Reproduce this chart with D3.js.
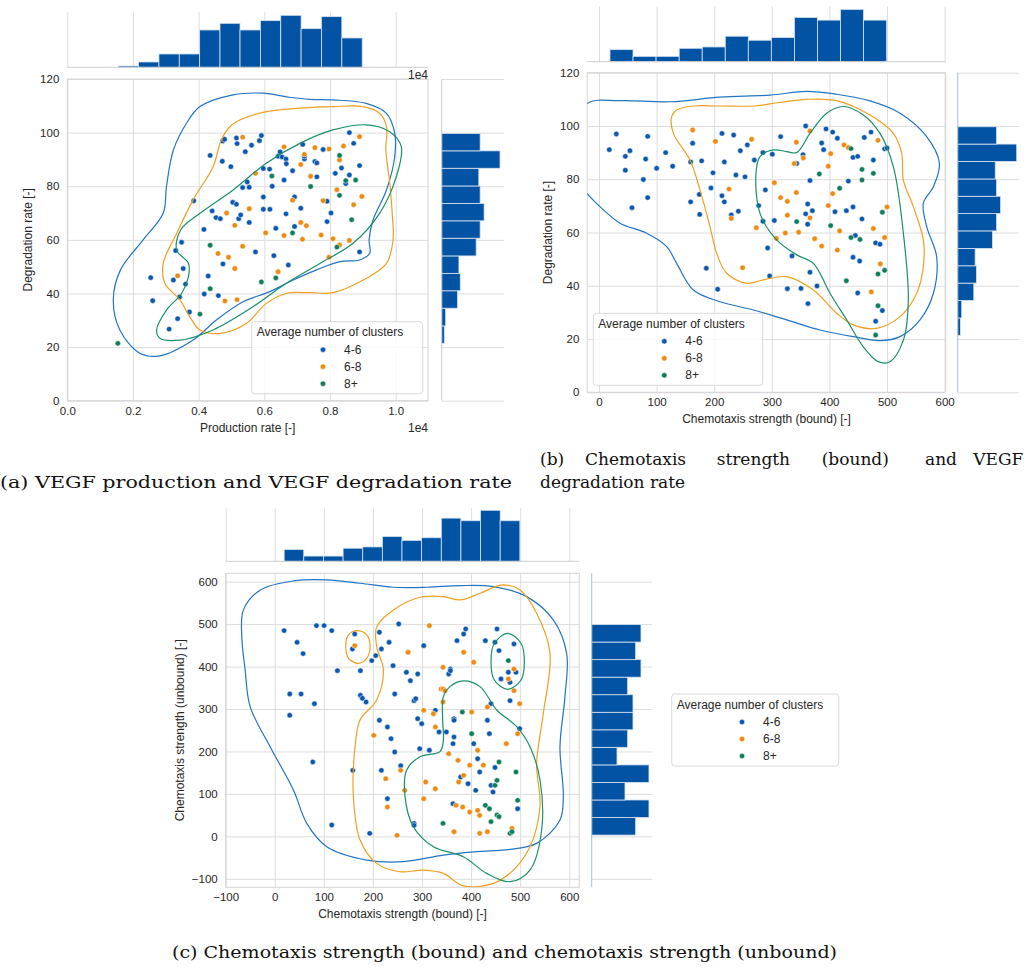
<!DOCTYPE html>
<html>
<head>
<meta charset="utf-8">
<script src="https://cdn.jsdelivr.net/npm/d3@7"></script>
<style>
body { margin: 0; background: #fff; }
svg text { font-family: "Liberation Sans", Arial, sans-serif; fill: #262626; }
.tick text { font-size: 11.5px; }
.grid .domain { display: none; }
.grid line, .axis line { stroke: #dddddd; stroke-width: 1; }
.axis .domain { display: none; }
.lbl { font-size: 12px; }
.caption { font-family: "DejaVu Serif", serif; font-size: 17px; fill: #111 !important; }
</style>
</head>
<body>
<svg id="fig" width="1027" height="968"></svg>
<script>
// cluster groups
var groups = ["4-6", "6-8", "8+"];
var pointColors = ["#0a58b0", "#ec8b12", "#0f7d5c"];
var lineColors = ["#2274c4", "#f0a020", "#1a8f6a"];

// ---- (a) production rate (x1e4) vs degradation rate ----
var aPts46 = [[0.254,45.9],[0.260,37.3],[0.310,26.7],[0.330,56.0],[0.323,45.0],[0.336,30.6],[0.342,38.7],[0.348,59.1],[0.353,49.3],[0.360,43.5],[0.372,33.1],[0.385,74.6],[0.416,63.9],[0.417,39.8],[0.429,46.5],[0.435,91.5],[0.441,70.8],[0.453,68.3],[0.460,39.2],[0.466,67.9],[0.472,89.3],[0.473,96.9],[0.479,97.5],[0.474,51.0],[0.498,87.3],[0.504,74.0],[0.515,73.3],[0.515,98.0],[0.517,95.9],[0.522,67.9],[0.528,69.3],[0.542,92.9],[0.548,81.6],[0.554,66.5],[0.534,79.5],[0.554,79.6],[0.561,95.3],[0.573,55.5],[0.585,97.0],[0.591,98.9],[0.597,86.6],[0.597,76.0],[0.597,71.4],[0.616,86.4],[0.617,71.4],[0.624,80.0],[0.629,54.1],[0.635,64.3],[0.642,91.2],[0.648,92.8],[0.654,90.9],[0.660,82.3],[0.666,90.2],[0.666,69.7],[0.667,88.4],[0.673,50.6],[0.686,85.8],[0.692,76.0],[0.692,65.0],[0.711,71.8],[0.717,95.6],[0.722,90.2],[0.722,91.2],[0.754,89.2],[0.760,88.7],[0.760,83.5],[0.779,93.7],[0.791,74.4],[0.791,66.8],[0.803,70.0],[0.816,84.8],[0.835,86.8],[0.848,81.0],[0.859,84.2],[0.859,100.0],[0.872,96.0],[0.890,87.7],[0.890,55.5]];
var aPts68 = [[0.336,46.6],[0.534,98.3],[0.480,37.2],[0.517,37.7],[0.459,54.9],[0.491,53.5],[0.510,49.3],[0.485,70.0],[0.510,65.4],[0.534,57.6],[0.554,71.6],[0.573,84.8],[0.604,62.6],[0.642,48.1],[0.660,61.6],[0.660,94.7],[0.686,74.8],[0.711,88.1],[0.711,66.5],[0.716,60.2],[0.728,65.3],[0.722,91.9],[0.741,83.7],[0.754,94.4],[0.773,61.8],[0.779,74.6],[0.797,93.9],[0.797,53.5],[0.809,60.4],[0.821,78.7],[0.829,89.8],[0.829,58.1],[0.841,95.0],[0.859,59.8],[0.872,73.1],[0.890,98.5],[0.897,76.2]];
var aPts8p = [[0.154,21.4],[0.404,32.3],[0.435,58.0],[0.435,41.8],[0.591,44.3],[0.635,45.8],[0.623,83.8],[0.686,62.6],[0.741,79.9],[0.829,91.5],[0.829,76.6],[0.821,57.3],[0.848,82.1],[0.866,67.5],[0.878,82.3]];

var aKde46 = [[0.404,109.7],[0.505,114.1],[0.596,114.7],[0.677,113.2],[0.738,112.4],[0.809,112.2],[0.910,110.9],[0.972,107.2],[0.997,99.8],[0.997,91.0],[0.972,78.6],[0.931,67.4],[0.919,60.0],[0.921,55.0],[0.890,52.5],[0.830,51.9],[0.759,48.8],[0.688,45.0],[0.617,40.7],[0.535,36.9],[0.454,30.1],[0.383,22.6],[0.282,16.7],[0.221,17.7],[0.160,26.4],[0.140,37.6],[0.162,48.8],[0.231,60.0],[0.292,69.9],[0.302,79.9],[0.323,93.5],[0.363,103.5]];
var aKde68 = [[0.525,104.7],[0.606,107.8],[0.708,109.1],[0.809,109.7],[0.900,109.7],[0.951,107.2],[0.972,102.2],[0.970,93.5],[0.982,81.1],[0.990,68.7],[0.992,60.0],[0.972,51.2],[0.901,45.0],[0.809,40.3],[0.738,40.3],[0.667,40.0],[0.606,36.3],[0.546,28.9],[0.465,25.1],[0.404,26.4],[0.373,31.3],[0.343,37.6],[0.297,43.8],[0.292,51.2],[0.333,62.4],[0.383,74.9],[0.444,87.3],[0.469,97.3],[0.495,102.2]];
var aKde8p = [[0.272,26.4],[0.302,33.8],[0.348,40.0],[0.369,46.3],[0.369,51.2],[0.333,56.2],[0.345,63.7],[0.404,69.9],[0.505,78.6],[0.606,88.6],[0.708,96.0],[0.809,101.0],[0.910,102.9],[0.981,100.4],[1.017,94.8],[1.002,83.6],[0.951,69.9],[0.870,58.7],[0.769,51.2],[0.667,43.8],[0.566,35.1],[0.444,26.4],[0.343,22.6],[0.282,23.3]];

// ---- (b) chemotaxis bound vs degradation rate ----
var bPts46 = [[17.9,91.1],[30.1,97.0],[45.7,88.6],[45.7,83.4],[53.8,90.7],[57.3,69.3],[77.0,79.9],[81.0,87.6],[84.5,96.1],[84.5,73.1],[100.1,84.1],[115.7,90.0],[127.9,84.9],[159.1,86.5],[159.1,71.5],[162.6,93.5],[174.2,74.3],[174.8,66.8],[178.2,86.9],[186.3,46.6],[194.4,76.7],[197.9,82.4],[206.0,38.7],[213.5,97.2],[213.5,73.8],[217.6,86.5],[217.6,71.5],[229.7,66.6],[233.8,96.6],[237.8,81.6],[241.9,68.0],[245.4,90.7],[253.5,80.9],[257.5,92.9],[269.7,87.2],[277.2,70.1],[284.7,90.0],[284.7,64.2],[288.8,76.0],[292.8,54.2],[296.3,43.7],[300.9,89.4],[304.4,64.5],[315.4,96.0],[327.0,38.9],[335.1,51.2],[343.2,85.9],[350.7,39.0],[354.2,89.2],[358.8,100.0],[358.8,67.0],[362.3,70.7],[362.3,63.1],[362.8,33.3],[366.3,79.5],[366.3,45.1],[370.4,68.2],[378.5,39.9],[386.6,93.6],[390.0,91.1],[394.1,98.9],[405.7,97.7],[409.7,67.8],[413.8,95.4],[429.4,68.2],[432.9,79.3],[441.0,88.2],[441.0,69.6],[441.0,50.7],[445.0,58.9],[449.1,88.6],[449.1,37.3],[452.5,49.3],[456.6,65.1],[460.6,95.7],[472.2,97.7],[476.3,87.2],[480.3,56.1],[480.3,26.7],[487.8,55.6],[491.9,30.7],[495.9,91.4],[500.0,91.7]];
var bPts68 = [[162.6,98.5],[202.0,94.2],[225.7,76.3],[229.7,65.3],[249.4,46.8],[265.0,95.0],[273.1,61.8],[304.4,78.7],[307.9,57.8],[315.4,73.1],[323.5,59.8],[327.0,71.7],[327.0,66.5],[339.1,85.9],[342.6,93.9],[342.6,75.0],[346.6,60.1],[354.7,88.0],[366.3,98.1],[366.3,65.5],[374.4,57.7],[386.6,54.9],[398.1,84.9],[398.1,70.1],[402.2,89.6],[405.7,74.6],[413.8,53.4],[417.8,60.6],[425.3,92.9],[432.9,91.9],[472.8,37.7],[476.3,61.5],[484.4,94.6],[488.4,48.2],[495.9,58.1],[500.0,69.6]];
var bPts8p = [[343.2,64.1],[382.5,82.0],[402.2,62.6],[417.8,76.6],[429.4,41.9],[437.5,91.5],[437.5,58.1],[453.1,57.4],[456.6,83.7],[456.6,79.7],[476.3,82.2],[484.4,44.4],[484.4,32.5],[480.3,21.5],[491.9,67.6],[495.9,45.8]];

var bKde46 = [[-20.3,108.5],[36.5,109.5],[123.3,109.1],[210,110.8],[296.9,111.6],[360.5,113.0],[412.6,111.9],[470.5,109.4],[522.6,104.8],[568.9,96.0],[590.9,86.0],[580.5,77.2],[563.1,71.0],[568.9,62.2],[586.2,50.9],[580.5,37.2],[557.3,27.2],[522.6,20.9],[488.0,19.4],[441.7,20.9],[383.7,23.4],[325.8,27.2],[268.0,30.9],[210,34.0],[163.8,38.4],[134.8,48.4],[117.5,54.7],[82.8,59.7],[36.5,63.5],[1.7,69.7],[-20.3,74.5],[-50,82],[-60,95]];
var bKde68 = [[134.8,106.0],[163.8,107.5],[210,107.5],[268,107.5],[313.2,108.8],[360.5,110.0],[412.6,109.5],[470.5,104.1],[511.0,97.2],[525.5,89.7],[528.4,79.7],[545.7,69.7],[563.1,57.2],[563.1,47.2],[551.5,37.2],[522.6,28.4],[482.1,24.0],[441.7,25.3],[412.6,29.7],[372.1,38.4],[325.8,43.4],[285.3,42.2],[256.4,40.9],[221.6,44.7],[204.3,52.2],[192.7,62.2],[175.3,76.0],[158.0,87.2],[129.1,97.2],[126.2,103.5]];
var bKde8p = [[279.5,88.5],[302.7,91.0],[325.8,90.4],[343.2,90.0],[366.3,97.2],[395.3,104.8],[424.2,107.3],[458.9,104.1],[487.8,97.2],[511,84.7],[528.4,59.7],[537,34.7],[528.4,19.6],[505.2,11.5],[485,11.5],[458.9,17.1],[430,27.2],[401,37.2],[372.1,48.4],[343.2,51.6],[308.4,57.2],[279.5,67.2],[272.6,82.2]];

// ---- (c) chemotaxis bound vs chemotaxis unbound ----
var cPts46 = [[19.0,484.7],[45.5,457.2],[57.7,430.5],[30.5,335.4],[53.6,335.4],[30.5,285.2],[80.8,312.6],[77.4,175.2],[84.9,496.5],[100.5,496.5],[116.1,484.7],[127.6,390.4],[116.1,26.7],[158.2,441.5],[162.9,476.8],[158.9,155.5],[174.5,390.4],[174.5,332.3],[178.5,325.2],[186.0,316.6],[193.5,7.1],[197.6,414.0],[205.7,425.8],[213.2,480.8],[213.2,273.4],[217.2,441.5],[217.2,155.5],[232.9,457.2],[229.5,257.7],[236.9,230.2],[241.0,402.2],[244.4,335.4],[244.4,198.7],[229.5,88.8],[252.5,500.4],[256.6,166.5],[268.2,386.5],[276.3,366.8],[283.8,319.7],[287.2,324.4],[283.8,30.6],[283.8,25.9],[291.2,382.6],[291.2,277.3],[295.3,206.6],[299.4,265.5],[303.5,449.3],[315.0,202.7],[327.2,296.9],[334.7,245.9],[349.6,245.9],[354.4,382.6],[357.8,394.3],[357.8,390.4],[363.2,218.4],[365.2,277.3],[365.2,273.4],[365.2,234.1],[363.2,77.0],[371.3,461.1],[378.8,139.8],[384.9,476.8],[389.0,488.6],[393.8,124.1],[405.3,218.4],[409.4,108.4],[413.4,183.0],[417.5,151.6],[429.1,461.1],[433.2,273.4],[437.3,241.9],[440.6,312.6],[440.6,120.2],[444.7,104.5],[448.7,162.3],[448.7,457.2],[452.8,488.6],[456.9,437.6],[460.9,370.7],[475.9,386.5],[479.3,319.7],[479.3,362.8],[487.4,453.3],[491.5,386.5],[499.0,253.7],[494.9,65.2]];
var cPts68 = [[162.9,449.3],[201.6,238.0],[226.1,135.9],[229.5,69.1],[249.2,2.4],[256.6,155.5],[264.8,108.4],[271.6,433.6],[303.5,296.9],[303.5,88.8],[307.5,128.0],[315.0,496.5],[323.2,289.0],[327.2,257.7],[327.2,112.3],[338.8,347.2],[342.8,347.2],[346.9,343.3],[342.8,398.3],[342.8,316.6],[354.4,194.8],[365.2,11.0],[369.3,73.1],[373.4,179.1],[374.7,128.0],[382.9,69.1],[384.9,143.7],[384.9,433.6],[397.2,57.3],[397.2,167.7],[401.2,292.9],[405.3,410.0],[413.4,202.7],[413.4,61.3],[417.5,49.5],[417.5,7.1],[425.0,167.7],[433.2,304.8],[433.2,11.0],[471.8,218.4],[475.9,370.7],[487.4,394.3],[487.4,343.3],[483.4,18.9],[494.9,241.9],[499.0,312.6]];
var cPts8p = [[342.8,30.6],[382.2,292.9],[401.2,241.9],[429.1,73.1],[437.3,65.2],[440.6,34.6],[448.7,120.2],[452.8,132.0],[452.8,50.3],[456.9,175.2],[456.9,46.3],[475.9,414.0],[479.3,7.1],[483.4,11.0],[491.5,151.6],[494.9,84.8]];

var cKde46 = [[-64,533],[-29.9,580],[38.0,601.7],[105.9,604.1],[173.8,596.2],[241.7,586.8],[309.6,586.8],[377.4,590.7],[445.3,588.4],[513.2,564.8],[567.5,509.8],[594.7,431.3],[591.3,329.1],[581.1,211.3],[587.9,93.5],[581.1,38.5],[533.6,-16.5],[479.3,-30.6],[411.4,-36.1],[343.5,-44.0],[262.0,-59.7],[187.4,-55.8],[105.9,-24.4],[65.2,30.6],[38.0,109.2],[-9.5,211.3],[-50.2,305.6],[-60.4,392.0],[-67.2,470.5]];
var cKde68 = [[207.7,494.1],[241.7,533.4],[296.0,563.2],[343.5,564.8],[377.4,557.0],[418.2,572.7],[465.7,592.3],[499.7,580.5],[533.6,525.5],[560.8,431.3],[547.2,289.9],[533.6,172.0],[540.4,69.9],[520,-24.4],[486.1,-79.4],[445.3,-110.8],[384.2,-116.7],[343.5,-87.2],[302.8,-79.4],[255.3,-83.3],[207.7,-63.6],[173.8,-8.6],[160.2,93.5],[163.6,211.3],[173.8,274.2],[207.7,321.3],[221.3,392.0],[207.7,447.0]];
var cKde68b = [[144.6,447],[150.1,474.5],[167.1,484.7],[187.4,474.5],[194.2,447],[187.4,419.5],[170.4,407.7],[150.1,419.5]];
var cKde8p = [[343.5,329.1],[357.1,352.7],[384.2,366.1],[418.2,352.7],[452.2,297.7],[492.9,258.4],[520,211.3],[540.4,132.8],[543.8,14.9],[520,-79.4],[479.3,-106.8],[431.8,-87.2],[384.2,-47.9],[323.2,-24.4],[282.4,22.8],[265.4,93.5],[268.8,156.3],[295.9,187.7],[336.6,199.5],[343.5,227.0],[342.1,274.2]];
var cKde8pb = [[440.6,411.6],[447.4,454.8],[474.5,478.4],[501.7,454.8],[508.5,411.6],[501.7,368.4],[474.5,346.4],[447.4,368.4]];

// ---- marginal histograms (bin edges + counts) ----
var prodEdges = [0.155,0.217,0.279,0.341,0.403,0.465,0.526,0.588,0.650,0.712,0.774,0.836,0.898];
var prodCounts = [1,4,10,10,28,33,28,35,39,29,38,22];
var degrEdges = [21.4,27.9,34.5,41.0,47.5,54.0,60.6,67.1,73.6,80.1,86.7,93.2,99.7];
var degrCounts = [2,3,12,14,13,26,29,32,29,28,44,29];
var boundEdges = [19.1,59.1,99.1,139.2,179.2,219.2,259.2,299.2,339.3,379.3,419.3,459.3,499.4];
var boundCounts = [9,4,4,10,11,19,16,18,33,31,39,31];
var unboundEdges = [3,44.3,85.7,127,168.3,209.7,251,292.3,333.7,375,416.3,457.7,499];
var unboundCounts = [33,43,25,43,19,27,31,31,27,37,33,37];

// ---- tick values ----
var prodTicks = [0, 0.2, 0.4, 0.6, 0.8, 1.0];
var degrTicks = [0, 20, 40, 60, 80, 100, 120];
var boundTicksB = [0, 100, 200, 300, 400, 500, 600];
var boundTicksC = [-100, 0, 100, 200, 300, 400, 500, 600];
var unboundTicks = [-100, 0, 100, 200, 300, 400, 500, 600];

var svg = d3.select("#fig");

function jointPlot(p) {
  var b = p.box;
  var x = d3.scaleLinear().domain(p.xDomain).range([b.left, b.right]);
  var y = d3.scaleLinear().domain(p.yDomain).range([b.bottom, b.top]);
  var g = svg.append("g");

  // marginal grids
  g.append("g").attr("class", "grid")
    .attr("transform", "translate(0," + p.topM[1] + ")")
    .call(d3.axisBottom(x).tickValues(p.xTicks).tickSize(-(p.topM[1] - p.topM[0])).tickFormat(""));
  g.append("g").attr("class", "grid")
    .attr("transform", "translate(" + p.rightM[0] + ",0)")
    .call(d3.axisLeft(y).tickValues(p.yTicks).tickSize(-(p.rightM[1] - p.rightM[0])).tickFormat(""));

  // main axes with grid
  g.append("g").attr("class", "axis")
    .attr("transform", "translate(0," + b.bottom + ")")
    .call(d3.axisBottom(x).tickValues(p.xTicks).tickSize(-(b.bottom - b.top)).tickPadding(6).tickFormat(d3.format(p.xFmt)));
  g.append("g").attr("class", "axis")
    .attr("transform", "translate(" + b.left + ",0)")
    .call(d3.axisLeft(y).tickValues(p.yTicks).tickSize(-(b.right - b.left)).tickPadding(8).tickFormat(d3.format(p.yFmt)));
  g.append("rect")
    .attr("x", b.left).attr("y", b.top)
    .attr("width", b.right - b.left).attr("height", b.bottom - b.top)
    .attr("fill", "none").attr("stroke", "#d4d4d4");

  // top marginal histogram
  var hy = d3.scaleLinear().domain([0, p.topMax]).range([p.topM[1], p.topM[0]]);
  g.append("g").selectAll("rect").data(p.topCounts).enter().append("rect")
    .attr("x", function(d, i) { return x(p.topEdges[i]); })
    .attr("width", function(d, i) { return x(p.topEdges[i + 1]) - x(p.topEdges[i]); })
    .attr("y", function(d) { return hy(d); })
    .attr("height", function(d) { return hy(0) - hy(d); })
    .attr("fill", "#0353a4").attr("stroke", "#d7e4f2").attr("stroke-width", 0.8);
  g.append("line")
    .attr("x1", b.left).attr("x2", b.right).attr("y1", p.topM[1]).attr("y2", p.topM[1])
    .attr("stroke", "#cccccc");

  // right marginal histogram
  var hx = d3.scaleLinear().domain([0, p.rightMax]).range([p.rightM[0], p.rightM[1]]);
  g.append("g").selectAll("rect").data(p.rightCounts).enter().append("rect")
    .attr("x", hx(0))
    .attr("width", function(d) { return hx(d) - hx(0); })
    .attr("y", function(d, i) { return y(p.rightEdges[i + 1]); })
    .attr("height", function(d, i) { return y(p.rightEdges[i]) - y(p.rightEdges[i + 1]); })
    .attr("fill", "#0353a4").attr("stroke", "#d7e4f2").attr("stroke-width", 0.8);
  g.append("line")
    .attr("x1", p.rightM[0]).attr("x2", p.rightM[0]).attr("y1", b.top).attr("y2", b.bottom)
    .attr("stroke", p.spineColor);

  // scatter
  p.points.forEach(function(pts, k) {
    g.append("g").selectAll("circle").data(pts).enter().append("circle")
      .attr("cx", function(d) { return x(d[0]); })
      .attr("cy", function(d) { return y(d[1]); })
      .attr("r", 2.7)
      .attr("fill", pointColors[k])
      .attr("stroke", "#fff").attr("stroke-width", 0.5);
  });

  // kde contours (clipped to the joint axes)
  var clipId = "clip" + p.id;
  svg.append("clipPath").attr("id", clipId).append("rect")
    .attr("x", b.left).attr("y", b.top)
    .attr("width", b.right - b.left).attr("height", b.bottom - b.top);
  var line = d3.line()
    .x(function(d) { return x(d[0]); })
    .y(function(d) { return y(d[1]); })
    .curve(d3.curveCatmullRomClosed.alpha(0.5));
  var cg = g.append("g").attr("clip-path", "url(#" + clipId + ")");
  p.contours.forEach(function(c) {
    cg.append("path").attr("d", line(c.pts))
      .attr("fill", "none").attr("stroke", lineColors[c.k]).attr("stroke-width", 1.2);
  });

  // axis labels
  g.append("text").attr("class", "lbl")
    .attr("x", (b.left + b.right) / 2).attr("y", b.bottom + 31)
    .attr("text-anchor", "middle").text(p.xLabel);
  g.append("text").attr("class", "lbl")
    .attr("transform", "translate(" + p.yLabelX + "," + ((b.top + b.bottom) / 2) + ") rotate(-90)")
    .attr("dy", "0.35em").attr("text-anchor", "middle").text(p.yLabel);

  // legend
  var L = p.legend;
  var lg = g.append("g").attr("transform", "translate(" + L.x + "," + L.y + ")");
  lg.append("rect").attr("width", L.w).attr("height", 72).attr("rx", 3)
    .attr("fill", "#fff").attr("fill-opacity", 0.8).attr("stroke", "#d9d9d9");
  lg.append("text").attr("class", "lbl").attr("x", 5).attr("y", 14.5).text("Average number of clusters");
  groups.forEach(function(name, k) {
    lg.append("circle").attr("cx", L.mx).attr("cy", 28 + k * 17).attr("r", 2.7)
      .attr("fill", pointColors[k]).attr("stroke", "#fff").attr("stroke-width", 0.5);
    lg.append("text").attr("class", "lbl").attr("x", L.mx + 21).attr("y", 28 + k * 17 + 4.2).text(name);
  });
  return g;
}

var panelA = jointPlot({
  id: "A", box: {left: 67.3, right: 428, top: 79, bottom: 400.7},
  topM: [12.3, 67.3], rightM: [441.7, 504],
  xDomain: [0, 1.0984], yDomain: [0, 120],
  xTicks: prodTicks, yTicks: degrTicks, xFmt: ".1f", yFmt: "d",
  topEdges: prodEdges, topCounts: prodCounts, topMax: 41.25,
  rightEdges: degrEdges, rightCounts: degrCounts, rightMax: 47,
  spineColor: "#cccccc",
  points: [aPts46, aPts68, aPts8p],
  contours: [{k: 0, pts: aKde46}, {k: 1, pts: aKde68}, {k: 2, pts: aKde8p}],
  xLabel: "Production rate [-]", yLabel: "Degradation rate [-]", yLabelX: 28,
  legend: {x: 251.7, y: 321.7, w: 171, mx: 71.3}
});
panelA.append("text").attr("class", "lbl").attr("x", 428).attr("y", 79).attr("text-anchor", "end").text("1e4");
panelA.append("text").attr("class", "lbl").attr("x", 428).attr("y", 432).attr("text-anchor", "end").text("1e4");

jointPlot({
  id: "B", box: {left: 587.3, right: 945.7, top: 72.7, bottom: 392.3},
  topM: [6.7, 61.7], rightM: [957.7, 1019],
  xDomain: [-20.3, 601.9], yDomain: [0, 120],
  xTicks: boundTicksB, yTicks: degrTicks, xFmt: "d", yFmt: "d",
  topEdges: boundEdges, topCounts: boundCounts, topMax: 41,
  rightEdges: degrEdges, rightCounts: degrCounts, rightMax: 45.7,
  spineColor: "#a9bfd6",
  points: [bPts46, bPts68, bPts8p],
  contours: [{k: 0, pts: bKde46}, {k: 1, pts: bKde68}, {k: 2, pts: bKde8p}],
  xLabel: "Chemotaxis strength (bound) [-]", yLabel: "Degradation rate [-]", yLabelX: 548,
  legend: {x: 593.3, y: 313.3, w: 169.4, mx: 71}
});

jointPlot({
  id: "C", box: {left: 225.7, right: 579.3, top: 573.3, bottom: 887.3},
  topM: [508.3, 561.3], rightM: [591.7, 652.3],
  xDomain: [-100, 620.5], yDomain: [-120, 619.7],
  xTicks: boundTicksC, yTicks: unboundTicks, xFmt: "d", yFmt: "d",
  topEdges: boundEdges, topCounts: boundCounts, topMax: 40.5,
  rightEdges: unboundEdges, rightCounts: unboundCounts, rightMax: 45.5,
  spineColor: "#a9bfd6",
  points: [cPts46, cPts68, cPts8p],
  contours: [{k: 0, pts: cKde46}, {k: 1, pts: cKde68}, {k: 1, pts: cKde68b}, {k: 2, pts: cKde8p}, {k: 2, pts: cKde8pb}],
  xLabel: "Chemotaxis strength (bound) [-]", yLabel: "Chemotaxis strength (unbound) [-]", yLabelX: 180,
  legend: {x: 671.7, y: 694, w: 167, mx: 70.3}
});

// captions
svg.append("text").attr("class", "caption").attr("x", 0).attr("y", 488)
  .attr("textLength", 512).attr("lengthAdjust", "spacingAndGlyphs")
  .text("(a) VEGF production and VEGF degradation rate");
// justified first line of caption (b): word start positions
var capB = svg.append("text").attr("class", "caption").attr("y", 465);
[["(b)", 540], ["Chemotaxis", 585], ["strength", 716.7], ["(bound)", 821.7], ["and", 925], ["VEGF", 973.3]]
  .forEach(function(w) { capB.append("tspan").attr("x", w[1]).text(w[0]); });
svg.append("text").attr("class", "caption").attr("x", 540).attr("y", 488)
  .text("degradation rate");
svg.append("text").attr("class", "caption").attr("x", 172).attr("y", 958)
  .attr("textLength", 665).attr("lengthAdjust", "spacingAndGlyphs")
  .text("(c) Chemotaxis strength (bound) and chemotaxis strength (unbound)");
</script>
</body>
</html>
